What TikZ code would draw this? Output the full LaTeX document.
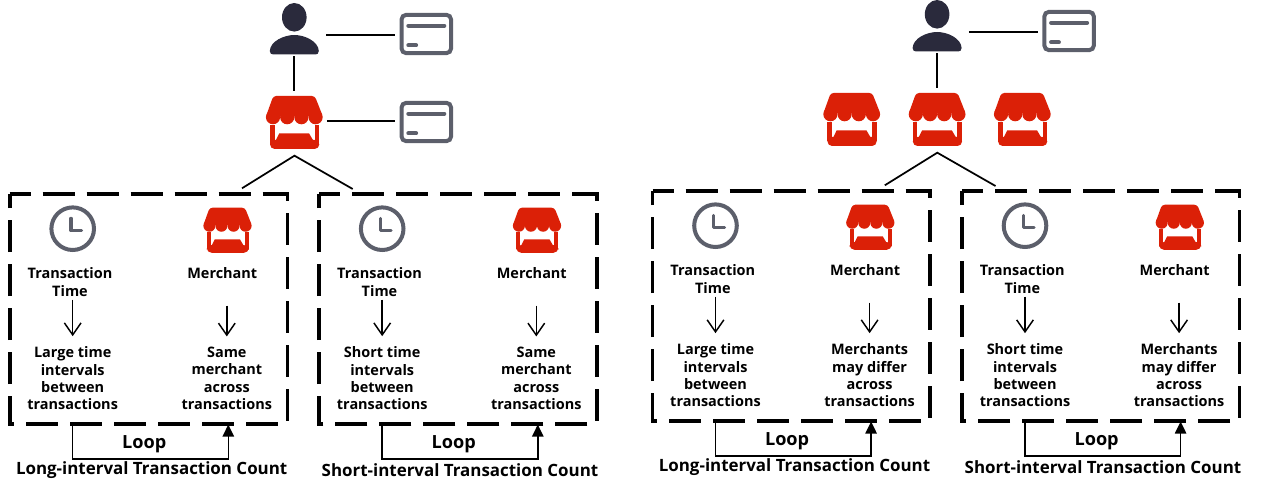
\documentclass[tikz,border=0pt]{standalone}
\usepackage{fontspec}
\setmainfont{Open Sans}
\usetikzlibrary{arrows.meta}
\definecolor{storered}{HTML}{DB2007}
\definecolor{inkdark}{HTML}{2A2A3C}
\definecolor{slate}{HTML}{5C5F6B}
\tikzset{
  x=.75pt,y=-.75pt,
  ghost/.style={inner sep=0pt,outer sep=0pt,draw=none},
  link/.style={line width=1.5pt,black},
  apexline/.style={line width=1.3pt,black},
  dashbox/.style={line width=2.7pt,black,dash pattern=on 24pt off 9pt,dash phase=8.25pt,line join=miter},
  headtxt/.style={align=center,font=\bfseries\fontsize{10.85}{13}\selectfont,inner xsep=0pt,inner ysep=2.4pt,outer sep=0pt,anchor=north},
  bodytxt/.style={align=center,font=\bfseries\fontsize{10.85}{13}\selectfont,inner xsep=0pt,inner ysep=8pt,outer sep=0pt},
  looptxt/.style={font=\bfseries\fontsize{13.6}{15}\selectfont,inner sep=0pt},
  captxt/.style={font=\bfseries\fontsize{12.7}{14}\selectfont,inner sep=0pt},
  downarrow/.style={line width=1.1pt,black,-{Straight Barb[length=9pt,width=12.5pt,line width=1.1pt]}},
  looparrow/.style={line width=1.1pt,black,-{Triangle[length=9pt,width=8.5pt]}},
  store/.pic={
    \fill[storered,rounded corners=2.2] (-21,0) -- (20.5,0) -- (28.6,20.5) -- (-28.4,20.5) -- cycle;
    \foreach \c in {-21.3,-7.1,7.1,21.3} \fill[storered] (\c,21.2) circle (7.1);
    \fill[storered] (-24.3,29) rectangle (-19.7,48);
    \fill[storered] (20.3,29) rectangle (25,48);
    \fill[storered,rounded corners=3.5] (-24.3,44) -- (-24.3,53) -- (25,53) -- (25,44) -- cycle;
    \fill[storered] (-15,37.3) -- (14.7,37.3) -- (20.4,47) -- (20.4,50) -- (-19.8,50) -- (-19.8,47) -- cycle;
  },
  person/.pic={
    \fill[inkdark] (0,14.3) ellipse (12.3 and 14.3);
    \fill[inkdark] (-24.5,48) .. controls (-24,38) and (-10,32) .. (0,32)
      .. controls (10,32) and (24,38) .. (24.5,48)
      .. controls (24.5,50.5) and (23,51.5) .. (21,51.5) -- (-21,51.5)
      .. controls (-23,51.5) and (-24.5,50.5) .. (-24.5,48) -- cycle;
  },
  card/.pic={
    \draw[slate,line width=3pt,rounded corners=3.6,fill=white] (-24.8,-19.2) rectangle (24.8,19.2);
    \draw[slate,line width=3pt,line cap=round] (-18,-8.3) -- (18,-8.3);
    \draw[slate,line width=3pt,line cap=round] (-18,11.3) -- (-10.2,11.3);
  },
  clockicon/.pic={
    \draw[slate,line width=3pt] (0,0) circle (21.3);
    \draw[slate,line width=2.3pt,line cap=round,line join=round] (-1.7,-10.4) -- (-1.7,2) -- (9,2);
  },
}
% #1 shift x, #2 shift y, #3 prefix, #4 left body, #5 right body, #6 caption, #7 caption x
\newcommand{\txpanel}[7]{%
\begin{scope}[shift={(#1,#2)}]
  \node[ghost,minimum width=208.2pt,minimum height=172.5pt] (#3box) at (148.5,309) {};
  \draw[dashbox] (#3box.north west) -- (#3box.north east) -- (#3box.south east) -- (#3box.south west) -- cycle;
  \pic at (72.7,228.7) {clockicon};
  \pic[scale=.85] at (227.5,207.7) {store};
  \node[headtxt] (#3time) at (70,264.8) {Transaction\\Time};
  \node[headtxt,text depth=17.5pt] (#3merch) at (222.3,264.8) {Merchant};
  \node[bodytxt] (#3lb) at (72.7,378.4) {#4};
  \node[bodytxt] (#3rb) at (226.8,378.4) {#5};
  \draw[downarrow] (#3time.south -| #3lb.north) -- (#3lb.north);
  \draw[downarrow] (#3merch.south -| #3rb.north) -- (#3rb.north);
  \coordinate (#3la) at (72.7,424);
  \coordinate (#3lb2) at (228.3,424.5);
  \draw[looparrow] (#3la) -- ++(0,35) -| (#3lb2);
  \node[looptxt] (#3loop) at (144.3,444.2) {Loop};
\end{scope}
\node[captxt] (#3cap) at ({#7},{470+#2}) {#6};
}
% #1 shift x, #2 shift y, #3 prefix
\newcommand{\upper}[3]{%
\begin{scope}[shift={(#1,#2)}]
  \pic at (294.3,3) {person};
  \node[ghost,minimum width=47.6pt,minimum height=32pt] (#3person) at (294.3,34.7) {};
  \pic at (426.3,34) {card};
  \node[ghost,minimum width=47pt,minimum height=32pt] (#3card) at (426.3,34.7) {};
  \pic at (294.3,96) {store};
  \node[ghost,minimum width=49pt,minimum height=45pt] (#3store) at (294.3,120.7) {};
  \draw[link] (#3person.east) -- (#3card.west);
  \draw[link] (#3person.south) -- (#3store.north);
  \coordinate (#3apex) at (294.5,155.7);
  \coordinate (#3ea) at (242,188.3);
  \coordinate (#3eb) at (352.7,189);
  \draw[apexline] (#3ea) -- (#3apex) -- (#3eb);
\end{scope}
}
\begin{document}
\begin{tikzpicture}
\useasboundingbox (0,0) rectangle (1262,488);
% left diagram
\upper{0}{0}{l}
\pic at (426.3,122) {card};
\node[ghost,minimum width=47pt,minimum height=32pt] (lcardb) at (426.3,120.7) {};
\draw[link] (lstore.east) -- (lcardb.west);
\txpanel{0}{0}{a}{Large time\\intervals\\between\\transactions}{Same\\merchant\\across\\transactions}{Long-interval Transaction Count}{151.7}
\txpanel{309.5}{0}{b}{Short time\\intervals\\between\\transactions}{Same\\merchant\\across\\transactions}{Short-interval Transaction Count}{460}
% right diagram
\upper{642.8}{-3}{r}
\pic at (851.7,93) {store};
\pic at (1022.3,93) {store};
\txpanel{642.8}{-3}{c}{Large time\\intervals\\between\\transactions}{Merchants\\may differ\\across\\transactions}{Long-interval Transaction Count}{794.5}
\txpanel{952.3}{-3}{d}{Short time\\intervals\\between\\transactions}{Merchants\\may differ\\across\\transactions}{Short-interval Transaction Count}{1103}
\end{tikzpicture}
\end{document}
